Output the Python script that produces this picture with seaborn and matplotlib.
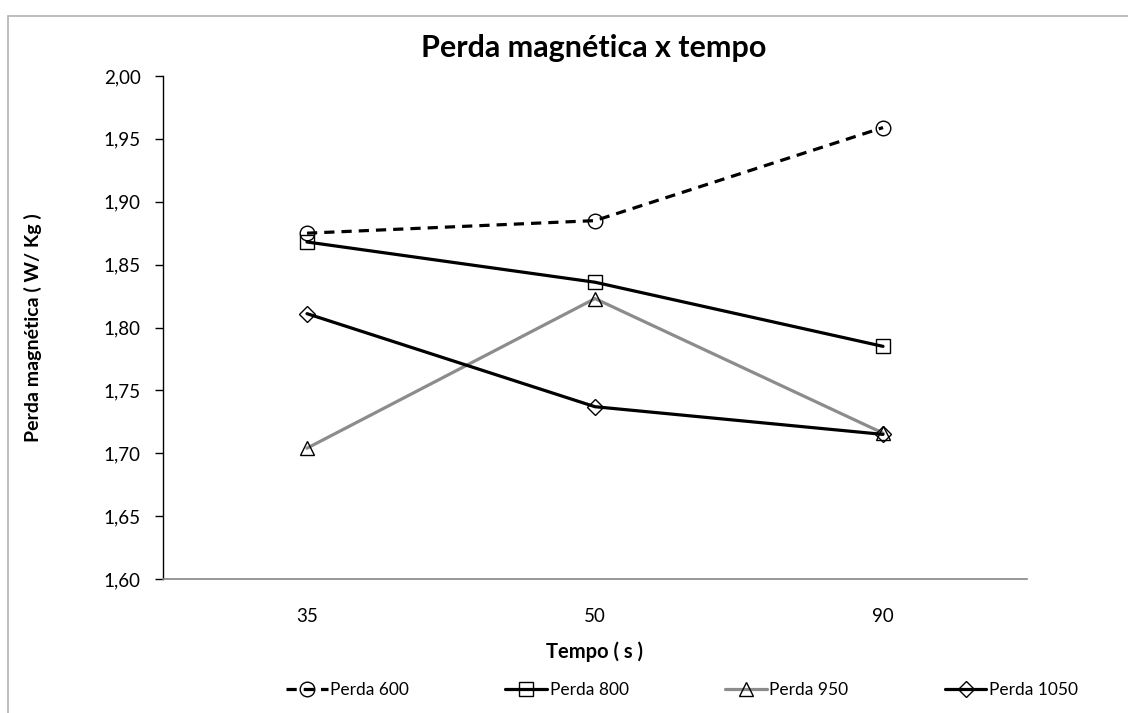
import matplotlib
matplotlib.use("Agg")
import matplotlib.pyplot as plt
from matplotlib.patches import Rectangle
from matplotlib.ticker import FixedLocator, FuncFormatter
import seaborn as sns
import pandas as pd

# Data: magnetic loss (W/kg) vs. annealing time (s) for four temperatures
tempos = ["35", "50", "90"]
perda_600 = [1.875, 1.885, 1.959]
perda_800 = [1.868, 1.836, 1.785]
perda_950 = [1.704, 1.823, 1.716]
perda_1050 = [1.811, 1.737, 1.715]
series_names = ["Perda 600", "Perda 800", "Perda 950", "Perda 1050"]
y_ticks = [1.60, 1.65, 1.70, 1.75, 1.80, 1.85, 1.90, 1.95, 2.00]

sns.set_theme(style="white")
plt.rcParams["font.family"] = ["Lato", "DejaVu Sans"]

fig = plt.figure(figsize=(11.28, 7.13), dpi=100)
fig.patch.set_facecolor("white")
ax = fig.add_axes([163 / 1128, 1 - 579 / 713, 864 / 1128, 503 / 713])

# Outer chart frame
fig.patches.append(Rectangle((8 / 1128, -0.05), 1.2, 1 - 16 / 713 + 0.05,
                             transform=fig.transFigure, fill=False,
                             edgecolor="#b3b3b3", linewidth=1.2, zorder=0))

styles = [
    dict(color="black", linestyle=(0, (3.2, 2.2)), marker="o", markersize=10.5),
    dict(color="black", linestyle="-", marker="s", markersize=10),
    dict(color="#8c8c8c", linestyle="-", marker="^", markersize=10.5),
    dict(color="black", linestyle="-", marker="D", markersize=8.5),
]
values = [perda_600, perda_800, perda_950, perda_1050]

for name, vals, st in zip(series_names, values, styles):
    df = pd.DataFrame({"Tempo": tempos, "Perda": vals})
    sns.lineplot(data=df, x="Tempo", y="Perda", ax=ax, label=name,
                 color=st["color"], linestyle=st["linestyle"], linewidth=2.3,
                 marker=st["marker"], markersize=st["markersize"],
                 markerfacecolor="none", markeredgecolor="black",
                 markeredgewidth=1.0, errorbar=None, sort=False)

ax.set_xlim(-0.5, 2.5)
ax.set_ylim(1.60, 2.00)
ax.yaxis.set_major_locator(FixedLocator(y_ticks))
ax.yaxis.set_major_formatter(FuncFormatter(lambda v, _: f"{v:.2f}".replace(".", ",")))

for side in ["top", "right"]:
    ax.spines[side].set_visible(False)
ax.spines["left"].set_color("black")
ax.spines["left"].set_linewidth(1.0)
ax.spines["bottom"].set_color("#868686")
ax.spines["bottom"].set_linewidth(1.2)

ax.tick_params(axis="y", direction="out", length=6, width=1, color="black",
               left=True, labelsize=13.5, pad=10, labelcolor="black")
ax.tick_params(axis="x", length=0, labelsize=13.5, pad=21, labelcolor="black")

ax.set_xlabel("Tempo ( s )", fontsize=14.5, fontweight="bold", color="black")
ax.set_ylabel("Perda magnética ( W/ Kg )", fontsize=14, fontweight="bold", color="black")
ax.xaxis.set_label_coords(0.5, (579 - 641) / 503)
ax.yaxis.set_label_coords((42 - 163) / 864, 0.5)

fig.text(594 / 1128, 1 - 48 / 713, "Perda magnética x tempo", ha="center", va="center",
         fontsize=22, fontweight="bold", color="black")

handles, labels = ax.get_legend_handles_labels()
ax.get_legend().remove()
fig.legend(handles, labels, loc="center", bbox_to_anchor=(682 / 1128, 1 - 690 / 713),
           ncol=4, frameon=False, fontsize=12.5, handlelength=2.4, handletextpad=0.15,
           columnspacing=5.55, labelcolor="black")

fig.savefig("out.png", dpi=100, facecolor="white")
